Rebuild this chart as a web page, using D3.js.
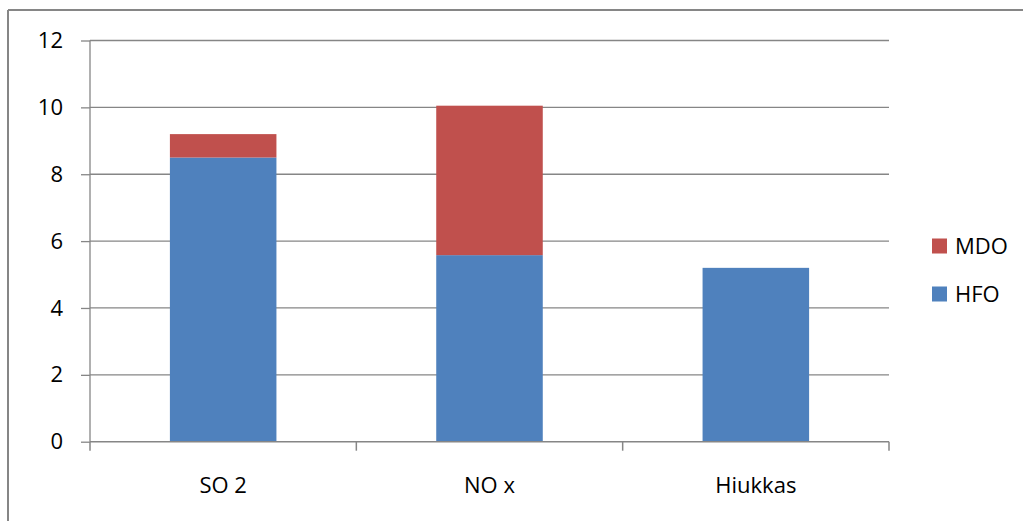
<!DOCTYPE html>
<html>
<head>
<meta charset="utf-8">
<script src="https://cdn.jsdelivr.net/npm/d3@7"></script>
<style>
  html, body { margin: 0; padding: 0; background: #fff; }
  svg { display: block; font-family: "Open Sans", sans-serif; }
</style>
</head>
<body>
<svg id="chart" width="1023" height="521"></svg>
<script>
// Emission categories and stacked fuel values
const categories = ["SO 2", "NO x", "Hiukkas"];
const hfoValues = [8.5, 5.58, 5.2];
const mdoValues = [0.7, 4.47, 0];
const yTicks = [0, 2, 4, 6, 8, 10, 12];
const seriesNames = ["HFO", "MDO"];
const seriesColors = ["#4F81BD", "#C0504D"];

const svg = d3.select("#chart");
const plot = { left: 90, right: 889, top: 40.5, bottom: 441.7 };
const gridColor = "#868686";

// Chart area frame (top and left edges visible)
svg.append("line").attr("x1", 8).attr("x2", 1023).attr("y1", 10).attr("y2", 10)
  .attr("stroke", gridColor).attr("stroke-width", 2);
svg.append("line").attr("x1", 8).attr("x2", 8).attr("y1", 10).attr("y2", 521)
  .attr("stroke", gridColor).attr("stroke-width", 2);

const x = d3.scaleBand().domain(categories).range([plot.left, plot.right])
  .paddingInner(0.6).paddingOuter(0.3);
const y = d3.scaleLinear().domain([0, 12]).range([plot.bottom, plot.top]);

// Horizontal gridlines
svg.append("g").selectAll("line").data(yTicks.filter(d => d > 0)).join("line")
  .attr("x1", plot.left).attr("x2", plot.right)
  .attr("y1", d => y(d)).attr("y2", d => y(d))
  .attr("stroke", gridColor).attr("stroke-width", 1.3);

// Stacked bars
const table = categories.map((c, i) => ({ cat: c, HFO: hfoValues[i], MDO: mdoValues[i] }));
const stacked = d3.stack().keys(seriesNames)(table);
svg.append("g").selectAll("g").data(stacked).join("g")
  .attr("fill", (d, i) => seriesColors[i])
  .selectAll("rect").data(d => d.filter(s => s[1] - s[0] > 0)).join("rect")
  .attr("x", d => x(d.data.cat))
  .attr("width", x.bandwidth())
  .attr("y", d => y(d[1]))
  .attr("height", d => y(d[0]) - y(d[1]));

// Y axis
const yAxis = svg.append("g").attr("transform", `translate(${plot.left},0)`)
  .call(d3.axisLeft(y).tickValues(yTicks).tickSize(9).tickPadding(18));
yAxis.select(".domain").attr("stroke", gridColor).attr("stroke-width", 1.3)
  .attr("d", `M0,${plot.top}V${plot.bottom}`);
yAxis.selectAll(".tick line").attr("stroke", gridColor).attr("stroke-width", 1.3);
yAxis.selectAll(".tick text").attr("font-size", 22).attr("fill", "#000")
  .attr("font-family", "Open Sans, sans-serif");

// X axis with category boundary ticks
const xg = svg.append("g");
xg.append("line").attr("x1", plot.left).attr("x2", plot.right)
  .attr("y1", plot.bottom).attr("y2", plot.bottom)
  .attr("stroke", gridColor).attr("stroke-width", 1.5);
const step = x.step();
const bounds = d3.range(categories.length + 1).map(i => plot.left + i * (plot.right - plot.left) / categories.length);
xg.selectAll("line.tk").data(bounds).join("line").attr("class", "tk")
  .attr("x1", d => d).attr("x2", d => d)
  .attr("y1", plot.bottom).attr("y2", plot.bottom + 9)
  .attr("stroke", gridColor).attr("stroke-width", 1.5);
xg.selectAll("text").data(categories).join("text")
  .attr("x", d => x(d) + x.bandwidth() / 2)
  .attr("y", 493)
  .attr("text-anchor", "middle")
  .attr("font-size", 22)
  .attr("fill", "#000")
  .text(d => d);

// Legend (MDO above HFO)
const legendItems = [{ name: "MDO", color: seriesColors[1] }, { name: "HFO", color: seriesColors[0] }];
const lg = svg.append("g").selectAll("g").data(legendItems).join("g")
  .attr("transform", (d, i) => `translate(932,${238.5 + i * 48})`);
lg.append("rect").attr("width", 15).attr("height", 15).attr("fill", d => d.color);
lg.append("text").attr("x", 23).attr("y", 15.5).attr("font-size", 22).attr("fill", "#000")
  .text(d => d.name);
</script>
</body>
</html>
